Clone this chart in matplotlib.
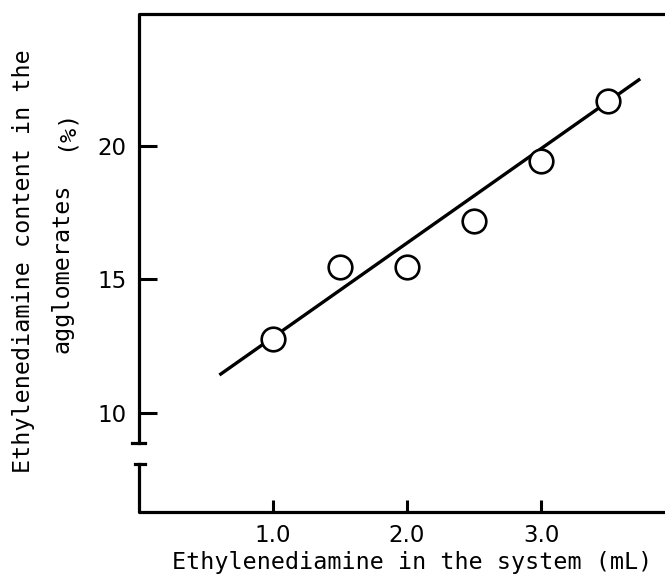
import matplotlib
matplotlib.use("Agg")
import matplotlib.pyplot as plt

# Data
system_ml = [1.0, 1.5, 2.0, 2.5, 3.0, 3.5]
content_pct = [12.76, 15.48, 15.46, 17.19, 19.44, 21.70]

# Fitted straight line (end points)
fit_x = [0.60, 3.74]
fit_y = [11.42, 22.51]

x_ticks = [1.0, 2.0, 3.0]
x_tick_labels = ["1.0", "2.0", "3.0"]
y_ticks = [10, 15, 20]
y_tick_labels = ["10", "15", "20"]

XLIM = (0.0, 3.925)
YLIM = (6.29, 24.94)
BREAK_TOP = 8.88   # lower end of the upper spine segment
BREAK_BOT = 8.09   # upper end of the lower spine segment

mono = "DejaVu Sans Mono"
lw = 2.3

fig = plt.figure(figsize=(6.65, 5.83), dpi=100, facecolor="white")
ax = fig.add_axes([139 / 665, 71 / 583, 526 / 665, 498 / 583])
ax.set_xlim(*XLIM)
ax.set_ylim(*YLIM)

for s in ax.spines.values():
    s.set_visible(False)

# Frame drawn by hand so the y axis can be broken
trans = ax.get_yaxis_transform()
ax.plot([0, 0, 1], [BREAK_TOP, YLIM[1], YLIM[1]], transform=trans,
        color="black", lw=lw, solid_joinstyle="round", clip_on=False, zorder=3)
ax.plot([0, 0, 1], [BREAK_BOT, YLIM[0], YLIM[0]], transform=trans,
        color="black", lw=lw, solid_joinstyle="round", clip_on=False, zorder=3)
ax.plot([-0.013, 0.012], [BREAK_TOP, BREAK_TOP], transform=trans,
        color="black", lw=lw, clip_on=False, zorder=3)
ax.plot([-0.008, 0.012], [BREAK_BOT, BREAK_BOT], transform=trans,
        color="black", lw=lw, clip_on=False, zorder=3)

# Fit line and measured points
ax.plot(fit_x, fit_y, color="black", lw=2.4, zorder=2, solid_capstyle="butt")
ax.plot(system_ml, content_pct, linestyle="none", marker="o", markersize=17,
        markerfacecolor="white", markeredgecolor="black", markeredgewidth=1.9,
        zorder=4)

# Ticks
ax.set_xticks(x_ticks)
ax.set_xticklabels(x_tick_labels)
ax.set_yticks(y_ticks)
ax.set_yticklabels(y_tick_labels)
ax.tick_params(axis="x", direction="in", length=9, width=2.2, pad=9,
               labelsize=16.5, top=False)
ax.tick_params(axis="y", direction="in", length=13, width=2.2, pad=9,
               labelsize=16.5, right=False)
for lab in ax.get_xticklabels() + ax.get_yticklabels():
    lab.set_family("DejaVu Sans")

# Axis labels
ax.set_xlabel("Ethylenediamine in the system (mL)", fontsize=16.8, family=mono)
ax.xaxis.set_label_coords(0.52, -0.078)
fig.text(24 / 665, 1 - 261 / 583, "Ethylenediamine content in the",
         rotation=90, ha="center", va="center", fontsize=16.8, family=mono)
fig.text(62 / 665, 1 - 268 / 583, "agglomerates",
         rotation=90, ha="center", va="center", fontsize=16.8, family=mono)
fig.text(65 / 665, 1 - 130 / 583, "(%)",
         rotation=90, ha="center", va="center", fontsize=16.8, family=mono)

fig.savefig("out.png", dpi=100, facecolor="white")
